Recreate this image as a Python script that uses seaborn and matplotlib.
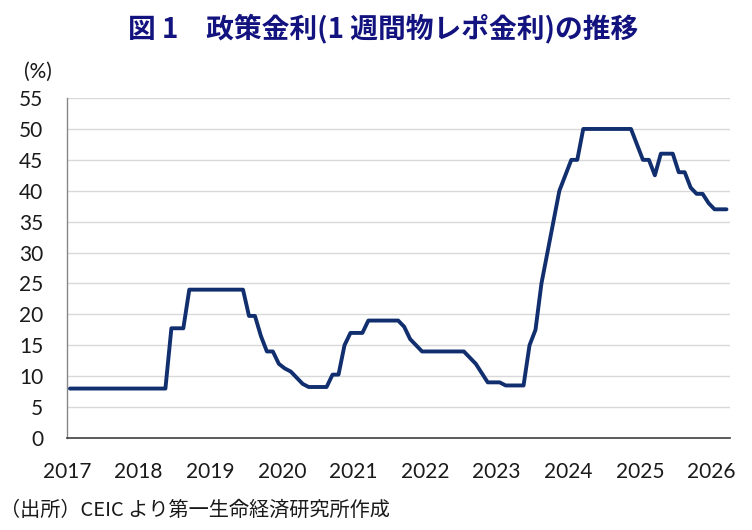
import matplotlib
matplotlib.use('Agg')
import matplotlib.pyplot as plt
import pandas as pd
import seaborn as sns

# 政策金利(1週間物レポ金利)、月次 (%)
rate_2017 = [8, 8, 8, 8, 8, 8, 8, 8, 8, 8, 8, 8]
rate_2018 = [8, 8, 8, 8, 8, 17.75, 17.75, 17.75, 24, 24, 24, 24]
rate_2019 = [24, 24, 24, 24, 24, 24, 19.75, 19.75, 16.5, 14, 14, 12]
rate_2020 = [11.25, 10.75, 9.75, 8.75, 8.25, 8.25, 8.25, 8.25, 10.25, 10.25, 15, 17]
rate_2021 = [17, 17, 19, 19, 19, 19, 19, 19, 18, 16, 15, 14]
rate_2022 = [14, 14, 14, 14, 14, 14, 14, 13, 12, 10.5, 9, 9]
rate_2023 = [9, 8.5, 8.5, 8.5, 8.5, 15, 17.5, 25, 30, 35, 40, 42.5]
rate_2024 = [45, 45, 50, 50, 50, 50, 50, 50, 50, 50, 50, 47.5]
rate_2025 = [45, 45, 42.5, 46, 46, 46, 43, 43, 40.5, 39.5, 39.5, 38]
rate_2026 = [37, 37, 37]

rates = (rate_2017 + rate_2018 + rate_2019 + rate_2020 + rate_2021
         + rate_2022 + rate_2023 + rate_2024 + rate_2025 + rate_2026)
months = pd.date_range('2017-01-01', periods=len(rates), freq='MS')

year_ticks = list(range(2017, 2027))
y_ticks = list(range(0, 60, 5))

TITLE = '図 1　政策金利(1 週間物レポ金利)の推移'
SOURCE = '（出所）CEIC より第一生命経済研究所作成'

df = pd.DataFrame({'date': months, 'rate': rates})
# 月の中央に点を置く
df['x'] = df['date'].dt.year + (df['date'].dt.month - 0.5) / 12

sns.set_theme(style='white')
plt.rcParams['font.family'] = ['Lato', 'Noto Sans CJK JP', 'DejaVu Sans']

fig = plt.figure(figsize=(7.52, 5.30), dpi=100)
ax = fig.add_axes([0.089, 0.1736, 0.882, 0.6414])

sns.lineplot(data=df, x='x', y='rate', ax=ax, color='#112f6e', linewidth=2.8)

ax.set_xlim(2017.0, 2026.26)
ax.set_ylim(0, 55)
ax.set_yticks(y_ticks)
ax.set_xticks(year_ticks)
ax.set_xticklabels([str(y) for y in year_ticks])
ax.set_xlabel('')
ax.set_ylabel('')

ax.yaxis.grid(True, color='#d9d9d9', linewidth=1.0)
ax.set_axisbelow(True)
for s in ['top', 'right']:
    ax.spines[s].set_visible(False)
ax.spines['left'].set_color('#868686')
ax.spines['left'].set_linewidth(1.0)
ax.spines['bottom'].set_color('#404040')
ax.spines['bottom'].set_linewidth(1.2)

ax.tick_params(axis='y', length=0, pad=17, labelsize=15, colors='#1a1a1a')
ax.tick_params(axis='x', direction='in', length=5.5, width=1, color='#404040',
               pad=17, labelsize=15, labelcolor='#1a1a1a')

fig.text(0.509, 0.947, TITLE, ha='center', va='center', fontsize=20,
         fontweight='bold', color='#13137f',
         family=['Noto Sans CJK JP', 'DejaVu Sans'])
fig.text(0.051, 0.864, '(%)', ha='center', va='center', fontsize=15,
         color='#1a1a1a')
fig.text(0.0, 0.037, SOURCE, ha='left', va='center', fontsize=14.5,
         color='#1a1a1a', family=['Noto Sans CJK JP', 'DejaVu Sans'])

plt.savefig('out.png', dpi=100, facecolor='white')
plt.close()
